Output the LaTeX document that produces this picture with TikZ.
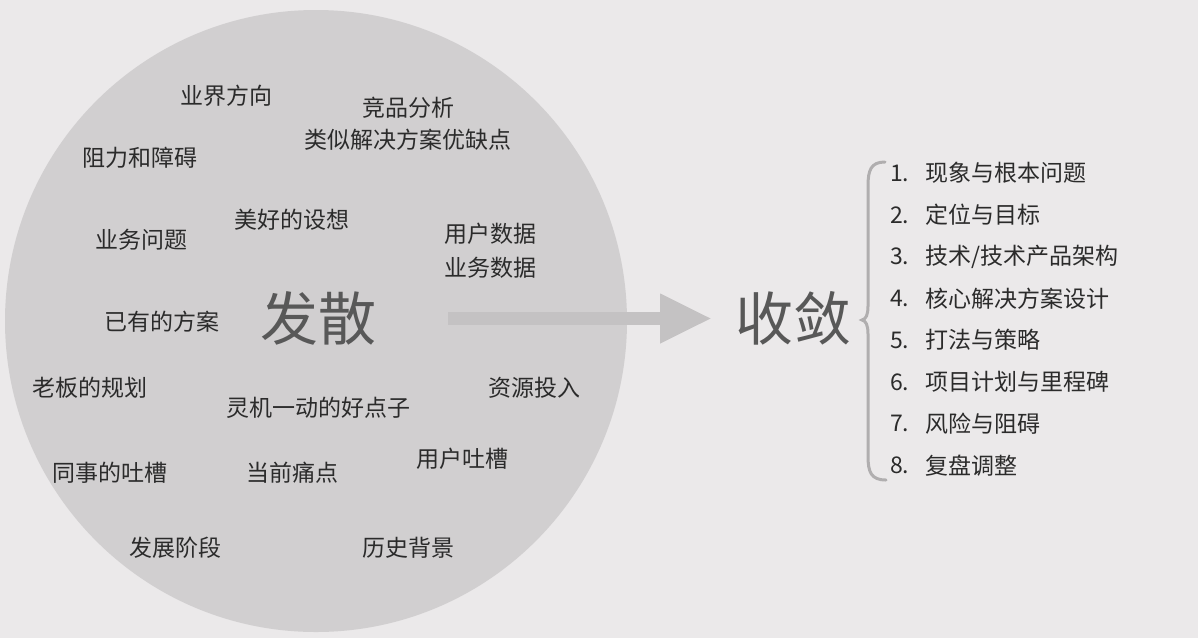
\documentclass[tikz,border=0pt]{standalone}
\usepackage{fontspec}
\setmainfont{Noto Sans CJK SC}
\usetikzlibrary{arrows.meta}
\definecolor{bg}{HTML}{EBE9EA}
\definecolor{disc}{HTML}{D1CFD0}
\definecolor{arrowgray}{HTML}{C4C2C3}
\definecolor{ink}{HTML}{2B2B2B}
\definecolor{bigink}{HTML}{585858}
\definecolor{bracegray}{HTML}{B0AEAF}
\tikzset{
  idea/.style={text=ink, font=\fontsize{23}{27}\selectfont, inner sep=0pt},
  big/.style={text=bigink, font=\fontsize{58}{64}\selectfont, inner sep=0pt},
  item/.style={text=ink, font=\fontsize{23}{27}\selectfont, inner sep=0pt, anchor=west},
}
\begin{document}
\begin{tikzpicture}[x=1pt,y=-1pt]
        \fill[bg] (0,0) rectangle (1198,638);
        \useasboundingbox (0,0) rectangle (1198,638);
        \fill[disc] (316,321) circle[radius=311];
        % ideas inside the circle
        \node[idea] (industry) at (226,96)  {业界方向};
        \node[idea] (rivals)   at (408,108) {竞品分析};
        \node[idea] (similar)  at (408,140) {类似解决方案优缺点};
        \node[idea] (barrier)  at (140,158) {阻力和障碍};
        \node[idea] (wish)     at (292,220) {美好的设想};
        \node[idea] (bizq)     at (141,240) {业务问题};
        \node[idea] (userdata) at (490,234) {用户数据};
        \node[idea] (bizdata)  at (490,268) {业务数据};
        \node[idea] (existing) at (162,322) {已有的方案};
        \node[idea] (boss)     at (90,388)  {老板的规划};
        \node[idea] (spark)    at (318,408) {灵机一动的好点子};
        \node[idea] (invest)   at (534,388) {资源投入};
        \node[idea] (usergripe) at (462,459) {用户吐槽};
        \node[idea] (peergripe) at (110,473) {同事的吐槽};
        \node[idea] (pain)     at (292,473) {当前痛点};
        \node[idea] (stage)    at (175,548) {发展阶段};
        \node[idea] (history)  at (408,548) {历史背景};
        \node[big] (diverge) at (318,318) {发散};
        % arrow to the right side
        \coordinate (from) at (448,318.5);
        \coordinate (to) at (712,318.5);
        \draw[arrowgray, line width=13pt, -{Triangle[length=52pt,width=46pt]}] (from) -- (to);
        \node[big] (converge) at (793,318) {收敛};
        \draw[bracegray, line width=3pt, line cap=round]
              (885,162) .. controls (871,162) and (868,170) .. (868,186) -- (868,306)
              .. controls (868,315) and (866,319) .. (862,320)
              .. controls (866,321) and (868,325) .. (868,334) -- (868,456)
              .. controls (868,472) and (871,480) .. (886,480);
        \foreach \t [count=\i] in {现象与根本问题, 定位与目标, 技术/技术产品架构,
                 核心解决方案设计, 打法与策略, 项目计划与里程碑, 风险与阻碍, 复盘调整} {
            \node[item] (n\i) at (890, 131.2 + 41.8 * \i) {\i.};
            \node[item] (t\i) at (925, 131.2 + 41.8 * \i) {\t};
        }
\end{tikzpicture}
\end{document}
